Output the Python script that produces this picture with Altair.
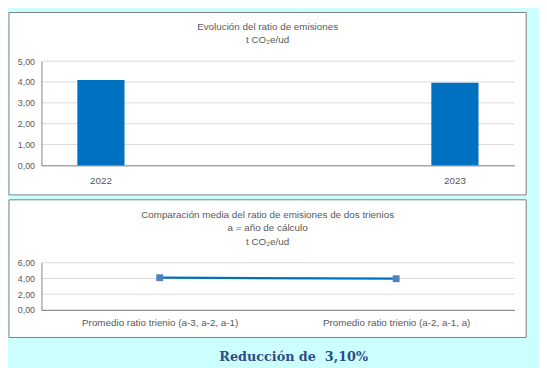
import altair as alt
import pandas as pd

# ---- data ----
years = ["2022", "2023"]
ratio = [4.10, 3.97]
trienios = ["Promedio ratio trienio (a-3, a-2, a-1)", "Promedio ratio trienio (a-2, a-1, a)"]
promedio = [4.10, 3.97]
ticks_top = [0, 1, 2, 3, 4, 5]
ticks_bottom = [0, 2, 4, 6]
title_top = ["Evolución del ratio de emisiones", "t CO₂e/ud"]
title_bottom = ["Comparación media del ratio de emisiones de dos trienios",
                "a = año de cálculo", "t CO₂e/ud"]
resultado = "Reducción de \u00a03,10%"

# ---- style ----
BLUE = "#0070C0"
MARKER = "#4F81BD"
TXT = "#595959"
GRID = "#D9D9D9"
AXIS = "#868686"
PANEL = "#808080"
BG = "#CCFFFF"
FONT = "Liberation Sans"
W = 481
H1 = 106
H2 = 48
PANEL_CX = 230  # centre of panel, relative to plot origin

df_top = pd.DataFrame({"year": years, "ratio": ratio})
df_bot = pd.DataFrame({"trienio": trienios, "ratio": promedio})
df_gt = pd.DataFrame({"v": ticks_top})
df_gb = pd.DataFrame({"v": ticks_bottom})
one = pd.DataFrame({"k": [0]})

label_expr = "replace(format(datum.value, '.2f'), '.', ',')"


def y_axis(vals):
    return alt.Axis(values=vals, labelExpr=label_expr, grid=False, ticks=False,
                    domain=True, domainColor=AXIS, labelFont=FONT, labelFontSize=9,
                    labelColor=TXT, labelPadding=7, title=None, zindex=1)


def x_axis(size, pad):
    return alt.Axis(grid=False, ticks=False, domain=True, domainColor=AXIS,
                    labelFont=FONT, labelFontSize=size, labelColor=TXT,
                    labelPadding=pad, labelAngle=0, title=None, zindex=1)


def title_marks(lines, first_y):
    out = []
    for i, t in enumerate(lines):
        out.append(alt.Chart(one).mark_text(text=t, font=FONT, fontSize=10, color=TXT,
                                            align="center", baseline="middle").encode(
            x=alt.value(PANEL_CX), y=alt.value(first_y + 14 * i)))
    return out


# ---- top panel ----
y_top = alt.Scale(domain=[0, 5], nice=False)
x_top = alt.Scale(domain=years, paddingInner=0.8667, paddingOuter=0.1014)

panel_top = alt.Chart(one).mark_rect(fill="white", stroke=PANEL, strokeWidth=1).encode(
    x=alt.value(-33), x2=alt.value(493), y=alt.value(-49.5), y2=alt.value(136))
grid_top = alt.Chart(df_gt).mark_rule(color=GRID, strokeWidth=1).encode(
    y=alt.Y("v:Q", scale=y_top, axis=y_axis(ticks_top)),
    x=alt.value(0), x2=alt.value(W))
bars = alt.Chart(df_top).mark_bar(color=BLUE).encode(
    x=alt.X("year:N", scale=x_top, sort=years, axis=x_axis(10, 10)),
    y=alt.Y("ratio:Q", scale=y_top, axis=y_axis(ticks_top)))

top = alt.layer(panel_top, grid_top, bars, *title_marks(title_top, -35)).properties(
    width=W, height=H1)

# ---- bottom panel ----
y_bot = alt.Scale(domain=[0, 6], nice=False)
x_bot = alt.Scale(type="point", domain=trienios, padding=0.5)

panel_bot = alt.Chart(one).mark_rect(fill="white", stroke=PANEL, strokeWidth=1).encode(
    x=alt.value(-33), x2=alt.value(493), y=alt.value(-64), y2=alt.value(76))
grid_bot = alt.Chart(df_gb).mark_rule(color=GRID, strokeWidth=1).encode(
    y=alt.Y("v:Q", scale=y_bot, axis=y_axis(ticks_bottom)),
    x=alt.value(0), x2=alt.value(W))
line = alt.Chart(df_bot).mark_line(color=BLUE, strokeWidth=2.25).encode(
    x=alt.X("trienio:N", scale=x_bot, sort=trienios, axis=x_axis(10, 8)),
    y=alt.Y("ratio:Q", scale=y_bot, axis=y_axis(ticks_bottom)))
pts = alt.Chart(df_bot).mark_point(shape="square", filled=True, size=49,
                                   color=MARKER, opacity=1).encode(
    x=alt.X("trienio:N", scale=x_bot, sort=trienios, axis=x_axis(10, 8)),
    y=alt.Y("ratio:Q", scale=y_bot, axis=y_axis(ticks_bottom)))
result = alt.Chart(one).mark_text(text=resultado, font="DejaVu Serif", fontSize=13,
                                  fontWeight="bold", color="#2E4D86", align="center",
                                  baseline="middle").encode(
    x=alt.value(256.5), y=alt.value(96))

bottom = alt.layer(panel_bot, grid_bot, line, pts, result,
                   *title_marks(title_bottom, -49)).properties(width=W, height=H2)

chart = alt.vconcat(top, bottom, spacing=99, bounds="flush",
                    padding={"left": 0, "top": 0, "right": 12, "bottom": 2}
                    ).configure(background=BG).configure_view(stroke="transparent")

chart.save("out.html", embed_options={"renderer": "svg", "actions": False})
